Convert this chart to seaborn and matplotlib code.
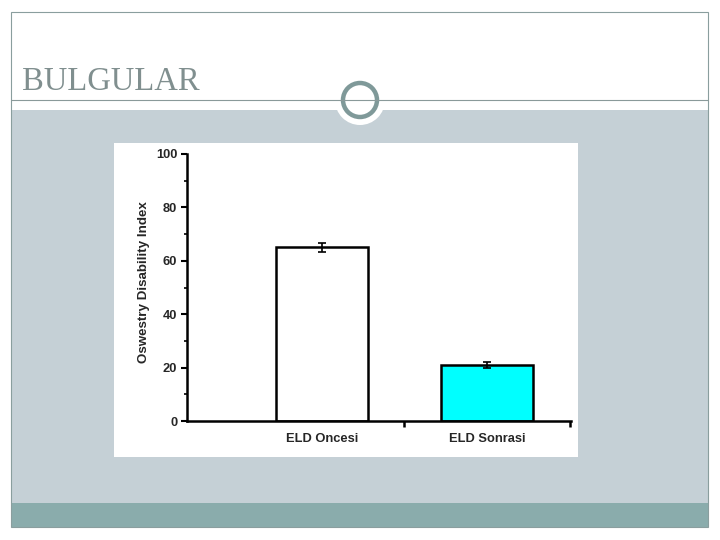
import matplotlib
matplotlib.use("Agg")
import matplotlib.pyplot as plt
import seaborn as sns
import pandas as pd
from matplotlib.patches import Rectangle, Circle

# ---- data ----
categories = ["ELD Oncesi", "ELD Sonrasi"]
values = [65.0, 21.0]
errors = [1.8, 1.0]
bar_colors = ["#ffffff", "#00ffff"]
y_ticks = [0, 20, 40, 60, 80, 100]
title = "BULGULAR"
y_label = "Oswestry Disability Index"

sns.set_theme(style="ticks")
plt.rcParams["font.family"] = ["Liberation Sans", "DejaVu Sans"]

fig = plt.figure(figsize=(7.2, 5.4), dpi=100)
fig.patch.set_facecolor("white")

# ---- slide background (pixel coordinates) ----
bg = fig.add_axes([0, 0, 1, 1])
bg.set_xlim(0, 720)
bg.set_ylim(540, 0)
bg.axis("off")
bg.add_patch(Rectangle((11, 110), 697, 393, facecolor="#c5d0d6", edgecolor="none"))
bg.add_patch(Rectangle((11, 503), 697, 24, facecolor="#8aacac", edgecolor="none"))
bg.add_patch(Rectangle((11, 12), 697, 515, facecolor="none", edgecolor="#8a9e9e", linewidth=0.8))
bg.plot([11, 708], [100, 100], color="#8a9a9a", linewidth=0.8)
bg.add_patch(Circle((360, 100), 25, facecolor="white", edgecolor="none"))
bg.add_patch(Circle((360, 100), 17, facecolor="white", edgecolor="#7f9999", linewidth=3.2))
bg.text(22, 90, title, fontsize=23.5, family=["Liberation Serif"], color="#808f8f", va="baseline", ha="left")
bg.add_patch(Rectangle((114, 143), 464, 314, facecolor="white", edgecolor="none"))

# ---- chart ----
df = pd.DataFrame({"cat": categories, "val": values})
ax = fig.add_axes([187 / 720, 1 - 421 / 540, (571 - 187) / 720, (421 - 154) / 540])
ax.set_facecolor("none")
sns.barplot(data=df, x="cat", y="val", hue="cat", palette=bar_colors, order=categories,
            hue_order=categories, edgecolor="black", linewidth=1.8, width=0.56,
            saturation=1, legend=False, errorbar=None, ax=ax)
ax.errorbar(range(len(categories)), values, yerr=errors, fmt="none", ecolor="black",
            elinewidth=1.2, capsize=3, capthick=1.2)

ax.set_xlim(-0.818, 1.509)
ax.set_ylim(0, 100)
ax.set_yticks(y_ticks)
ax.set_yticks([10, 30, 50, 70, 90], minor=True)
ax.set_xticks([0, 1])
ax.set_xticklabels(categories)
ax.set_xticks([0.5, 1.5], minor=True)
ax.tick_params(axis="x", which="major", length=0, pad=9)
ax.tick_params(axis="x", which="minor", length=4, width=1.8, direction="out", color="black")
ax.tick_params(axis="y", which="major", length=4, width=1.5, direction="out", color="black", pad=3)
ax.tick_params(axis="y", which="minor", length=2.5, width=1.2, direction="out", color="black")
for lab in ax.get_xticklabels() + ax.get_yticklabels():
    lab.set_fontweight("bold")
    lab.set_fontsize(9.3)
ax.set_xlabel("")
ax.set_ylabel(y_label, fontsize=9.6, fontweight="bold")
ax.yaxis.set_label_coords(-0.097, 0.52)
for s in ["top", "right"]:
    ax.spines[s].set_visible(False)
for s in ["left", "bottom"]:
    ax.spines[s].set_linewidth(1.8)
    ax.spines[s].set_color("black")

fig.savefig("out.png", dpi=100)
